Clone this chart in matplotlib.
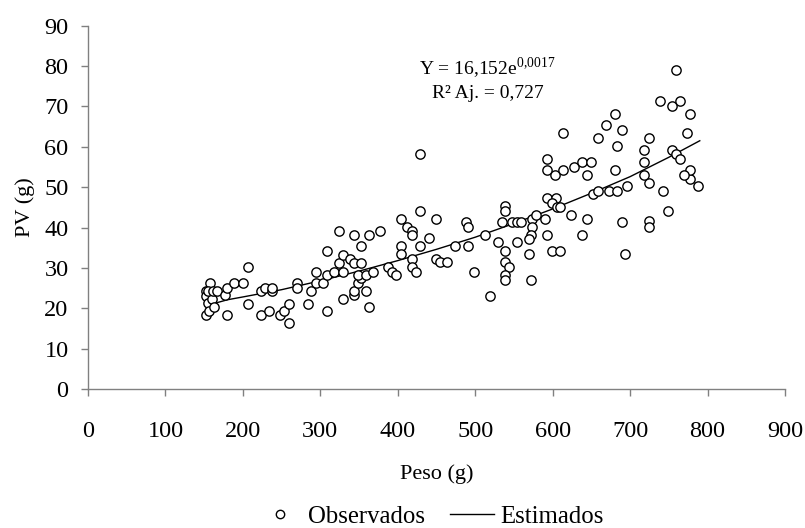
import numpy as np
import matplotlib.pyplot as plt

plt.rcParams['font.family'] = ['Liberation Serif', 'DejaVu Serif']
plt.rcParams['mathtext.fontset'] = 'custom'
plt.rcParams['mathtext.rm'] = 'Liberation Serif'

peso = [152, 152, 158, 153, 155, 156, 160, 163, 155, 162, 167,
        177, 179, 179, 188, 200, 206, 207, 224, 224, 228, 234, 238, 238,
        248, 253, 259, 259, 270, 270, 284, 288, 294, 294, 304, 308, 308,
        318, 324, 329, 329, 343, 343, 349, 353, 349, 359, 359, 363, 368,
        388, 393, 398, 324, 343, 363, 377, 308, 353, 329, 338, 343, 353,
        404, 404, 404, 429, 449, 412, 419, 419, 440, 488, 491, 429, 419,
        419, 423, 449, 454, 464, 474, 491, 513, 538, 538, 534, 548, 554,
        559, 573, 579, 590, 573, 593, 604, 599, 605, 610, 624, 644, 652,
        659, 673, 683, 696, 690, 694, 638, 593, 572, 569, 554, 530, 538,
        569, 599, 610, 538, 544, 538, 538, 572, 499, 519, 725, 725, 749,
        725, 743, 777, 788, 759, 739, 754, 764, 778, 773, 680, 669, 690,
        659, 683, 724, 718, 613, 429, 593, 593, 603, 613, 628, 638, 649,
        645, 680, 718, 718, 754, 759, 764, 778, 770]
pv = [18.3, 24.3, 26.2, 23.0, 21.2, 19.2, 22.3, 20.4, 24.3, 24.3, 24.3,
      23.2, 25.1, 18.3, 26.2, 26.2, 30.2, 21.1, 18.3, 24.3, 25.1, 19.2, 24.3, 25.1,
      18.3, 19.2, 21.1, 16.4, 26.2, 25.1, 21.1, 24.3, 26.2, 29.0, 26.2, 19.2, 28.3,
      29.0, 31.3, 22.4, 29.0, 23.2, 24.3, 26.2, 27.4, 28.3, 28.3, 24.3, 20.4, 29.0,
      30.2, 29.1, 28.3, 39.2, 38.1, 38.1, 39.2, 34.3, 35.3, 33.3, 32.3, 31.3, 31.3,
      42.0, 35.3, 33.5, 44.0, 42.0, 40.2, 39.2, 38.2, 37.3, 41.3, 40.2, 35.4, 32.3,
      30.3, 29.1, 32.3, 31.5, 31.5, 35.4, 35.4, 38.2, 45.4, 44.0, 41.3, 41.3, 41.3,
      41.3, 42.0, 43.2, 42.0, 40.2, 47.2, 47.2, 46.0, 45.2, 45.2, 43.2, 42.0, 48.3,
      49.1, 49.1, 49.1, 50.3, 41.3, 33.5, 38.2, 38.2, 38.2, 37.1, 36.3, 36.3, 34.2,
      33.5, 34.2, 34.2, 31.5, 30.2, 28.3, 27.0, 27.0, 29.1, 23.1, 41.5, 40.1, 44.0,
      51.0, 49.1, 52.0, 50.3, 79.1, 71.3, 70.1, 71.3, 68.1, 63.4, 68.1, 65.3, 64.2,
      62.2, 60.2, 62.2, 59.1, 63.4, 58.2, 57.1, 54.3, 53.1, 54.3, 55.1, 56.2, 56.2,
      53.1, 54.3, 56.2, 53.1, 59.1, 58.2, 57.1, 54.3, 53.1]

# fitted curve
peso_est = [152, 180, 200, 250, 300, 350, 400, 450, 500, 550, 600, 650, 700, 750, 790]
pv_est = [20.6, 22.1, 22.8, 24.6, 26.8, 29.2, 31.8, 34.6, 37.6, 41.0, 44.6, 48.5, 52.6, 57.4, 61.5]

fig = plt.figure(figsize=(8.05, 5.28), dpi=100)
ax = fig.add_axes([0.1093, 0.2633, 0.8658, 0.688])

ax.plot(peso, pv, 'o', mfc='white', mec='black', ms=6.7, mew=1.0,
        linestyle='none', label='Observados', zorder=3)
ax.plot(peso_est, pv_est, color='black', lw=1.0, label='Estimados', zorder=2)

ax.set_xlim(0, 900)
ax.set_ylim(0, 90)
ax.set_xticks(np.arange(0, 901, 100))
ax.set_yticks(np.arange(0, 91, 10))

for s in ['top', 'right']:
    ax.spines[s].set_visible(False)
for s in ['left', 'bottom']:
    ax.spines[s].set_color('#808080')
    ax.spines[s].set_linewidth(1.0)
ax.tick_params(axis='both', direction='out', length=5, width=1.0,
               color='#808080', labelsize=17.5)
ax.tick_params(axis='x', pad=18)
ax.tick_params(axis='y', pad=9)

ax.set_xlabel('Peso (g)', fontsize=16, labelpad=16)
ax.set_ylabel('PV (g)', fontsize=16, labelpad=7)

ax.text(515, 79.5, r'Y = 16,152e$^{\mathrm{0{,}0017}}$', ha='center', va='center', fontsize=14)
ax.text(517, 73.2, 'R² Aj. = 0,727', ha='center', va='center', fontsize=14)

fig.legend(loc='center', bbox_to_anchor=(430.5 / 805, 1 - 517 / 528), ncol=2, frameon=False,
           fontsize=17.8, handlelength=1.8, columnspacing=1.0, handletextpad=0.25,
           markerscale=0.9)

fig.savefig('out.png', dpi=100)
